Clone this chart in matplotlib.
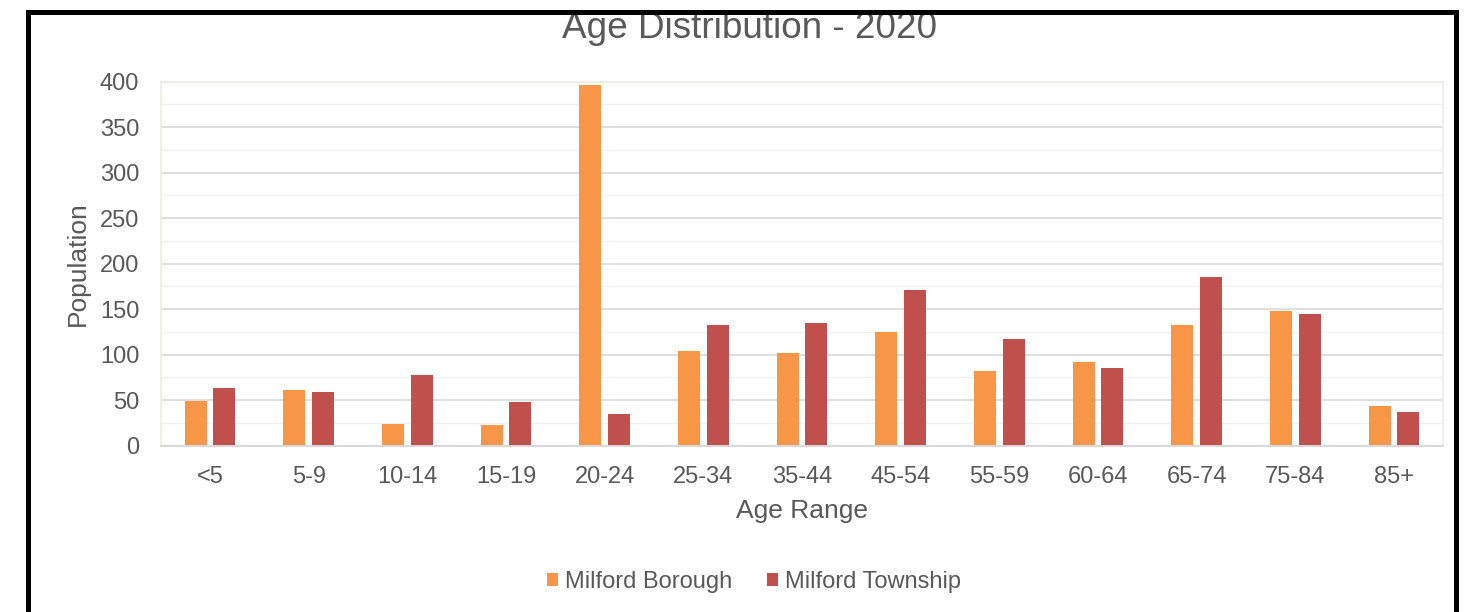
import matplotlib
matplotlib.use("Agg")
import matplotlib.pyplot as plt
import numpy as np
from matplotlib.patches import Rectangle
from matplotlib.ticker import MultipleLocator

plt.rcParams['font.family'] = ['Liberation Sans', 'DejaVu Sans']

age_ranges = ['<5', '5-9', '10-14', '15-19', '20-24', '25-34', '35-44',
              '45-54', '55-59', '60-64', '65-74', '75-84', '85+']
borough = [49, 61, 24, 22, 396, 104, 102, 125, 82, 92, 132, 148, 43]
township = [63, 59, 77, 48, 35, 132, 135, 171, 117, 85, 185, 145, 37]
series_names = ['Milford Borough', 'Milford Township']

W, H = 1473, 612
fig = plt.figure(figsize=(W / 100, H / 100), dpi=100)
fig.patch.set_facecolor('white')

def fx(px):
    return px / W

def fy(py):
    return 1 - py / H

ax = fig.add_axes([fx(160.7), fy(445.5), fx(1443.3) - fx(160.7), fy(81.7) - fy(445.5)])

text_color = '#595959'
orange = '#F79646'
red = '#C0504D'

x = np.arange(len(age_ranges))
bw = 0.223
off = 0.1455
ax.bar(x - off, borough, width=bw, color=orange, label=series_names[0], zorder=3)
ax.bar(x + off, township, width=bw, color=red, label=series_names[1], zorder=3)

ax.set_xlim(-0.5, len(age_ranges) - 0.5)
ax.set_ylim(0, 400)
ax.yaxis.set_major_locator(MultipleLocator(50))
ax.yaxis.set_minor_locator(MultipleLocator(25))
ax.grid(axis='y', which='major', color='#D9D9D9', linewidth=1.2, zorder=1)
ax.grid(axis='y', which='minor', color='#F2F2F2', linewidth=1.0, zorder=0)
ax.set_axisbelow(True)

for side in ['top', 'left', 'right']:
    ax.spines[side].set_color('#EEEDE4')
    ax.spines[side].set_linewidth(1.2)
ax.spines['bottom'].set_color('#D9D9D9')
ax.spines['bottom'].set_linewidth(1.4)
ax.spines['bottom'].set_zorder(4)

ax.set_xticks(x)
ax.set_xticklabels(age_ranges)
ax.tick_params(axis='both', which='both', length=0, labelsize=17, colors=text_color)
ax.tick_params(axis='y', pad=15.5)
ax.tick_params(axis='x', pad=14.5)

fig.text(fx(801.5), fy(518), 'Age Range', ha='center', va='baseline',
         fontsize=19, color=text_color)
fig.text(fx(78), fy(263.6), 'Population', ha='center', va='center',
         rotation=90, fontsize=19, color=text_color)
fig.text(fx(750), fy(38.5), 'Age Distribution - 2020', ha='center', va='baseline',
         fontsize=26.6, color=text_color, zorder=2)

handles, labels = ax.get_legend_handles_labels()
fig.legend(handles, labels, loc='center', bbox_to_anchor=(fx(754), fy(582)),
           ncol=2, frameon=False, fontsize=17, handlelength=0.46, handleheight=0.46,
           handletextpad=0.3, columnspacing=1.5, labelcolor=text_color)

# thick black frame around the chart (bottom edge runs past the canvas)
border = Rectangle((fx(27.8), fy(700)), fx(1455.8) - fx(27.8), fy(11.8) - fy(700),
                   transform=fig.transFigure, fill=False, edgecolor='black',
                   linewidth=3.6, zorder=10, clip_on=False)
fig.add_artist(border)

fig.savefig('out.png', dpi=100, facecolor='white')
